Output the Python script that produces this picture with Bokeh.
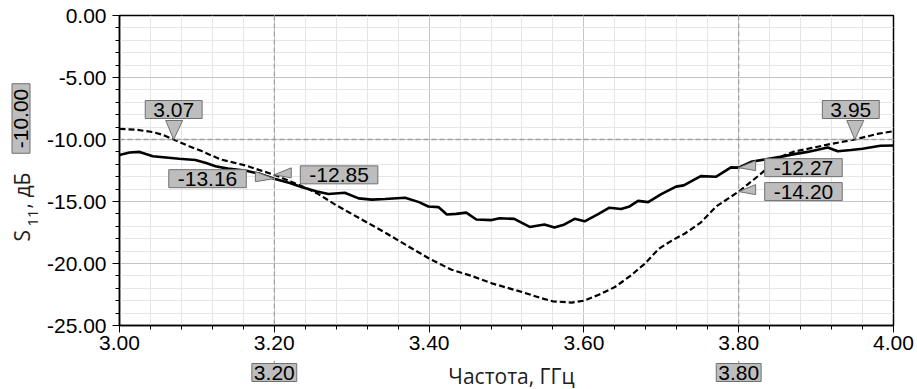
import math
from bokeh.plotting import figure
from bokeh.layouts import row, column
from bokeh.models import (Range1d, SingleIntervalTicker, PrintfTickFormatter, Label, Arrow)
from bokeh.embed import file_html
from bokeh.resources import INLINE

# ---- data ----
freq_solid = [3.000, 3.013, 3.026, 3.043, 3.060, 3.077, 3.098, 3.112, 3.124, 3.140, 3.162, 3.180,
              3.200, 3.220, 3.236, 3.255, 3.270, 3.291, 3.309, 3.326, 3.343, 3.369, 3.387, 3.399,
              3.412, 3.423, 3.435, 3.448, 3.461, 3.481, 3.491, 3.510, 3.530, 3.549, 3.562, 3.575,
              3.588, 3.601, 3.619, 3.633, 3.648, 3.659, 3.670, 3.683, 3.700, 3.719, 3.729, 3.751,
              3.771, 3.790, 3.800, 3.816, 3.835, 3.854, 3.870, 3.889, 3.915, 3.928, 3.945, 3.960,
              3.983, 4.000]
s11_solid = [-11.25, -11.05, -11.0, -11.35, -11.45, -11.55, -11.65, -11.9, -12.15, -12.35, -12.5, -12.75,
             -13.16, -13.5, -13.85, -14.2, -14.4, -14.3, -14.75, -14.85, -14.8, -14.7, -15.05, -15.4,
             -15.45, -16.05, -16.0, -15.9, -16.45, -16.5, -16.35, -16.4, -17.05, -16.85, -17.1, -16.85,
             -16.4, -16.6, -16.0, -15.5, -15.6, -15.4, -14.95, -15.05, -14.4, -13.8, -13.7, -12.95,
             -13.0, -12.25, -12.27, -11.8, -11.6, -11.4, -11.2, -11.0, -10.65, -10.95, -10.85, -10.75,
             -10.5, -10.48]

freq_dash = [3.000, 3.020, 3.043, 3.057, 3.070, 3.090, 3.107, 3.130, 3.163, 3.180, 3.200, 3.222,
             3.244, 3.257, 3.280, 3.300, 3.343, 3.370, 3.400, 3.429, 3.455, 3.481, 3.520, 3.545,
             3.560, 3.584, 3.600, 3.620, 3.640, 3.660, 3.679, 3.697, 3.715, 3.730, 3.751, 3.771,
             3.800, 3.826, 3.854, 3.870, 3.893, 3.920, 3.950, 3.979, 4.000]
s11_dash = [-9.15, -9.2, -9.4, -9.65, -10.0, -10.55, -10.95, -11.6, -12.1, -12.45, -12.85, -13.4,
            -14.0, -14.4, -15.3, -16.0, -17.5, -18.5, -19.6, -20.5, -21.0, -21.6, -22.3, -22.8,
            -23.05, -23.15, -23.0, -22.5, -21.9, -21.0, -20.0, -18.8, -18.1, -17.6, -16.7, -15.4,
            -14.20, -12.9, -11.4, -11.0, -10.7, -10.35, -10.0, -9.55, -9.33]

level_db = -10.0
level_freqs = [3.07, 3.95]          # dashed curve crossing -10 dB
marker_freqs = [3.20, 3.80]
marker_solid = [-13.16, -12.27]
marker_dash = [-12.85, -14.20]

x_label = "Частота, ГГц"
y_label_main, y_label_sub, y_label_tail = "S", "11", ", дБ"

# ---- layout constants (page pixels) ----
W, H = 917, 389
LW = 43                      # left strip width
MH = 360                     # main figure height
FL, FR, FT, FB = 117, 893, 15, 325
FW, FH = FR - FL, FB - FT
X0, X1, Y0, Y1 = 3.0, 4.0, -25.0, 0.0
GX = (X1 - X0) / FW
GY = (Y1 - Y0) / FH

def px_x(px):
    return X0 + (px - FL) * GX

def px_y(py):
    return Y1 - (py - FT) * GY

def bare(fig):
    fig.axis.visible = False
    fig.grid.visible = False
    fig.outline_line_color = None
    fig.background_fill_color = "white"
    fig.border_fill_color = "white"

xr = Range1d(X0, X1)

# ---- main figure ----
p = figure(width=W - LW, height=MH, output_backend="svg", toolbar_location=None,
           x_range=xr, y_range=Range1d(Y0, Y1),
           min_border_left=FL - LW, min_border_right=W - FR,
           min_border_top=FT, min_border_bottom=MH - FB)
p.background_fill_color = "white"
p.border_fill_color = "white"
p.outline_line_color = "black"
p.outline_line_width = 1.5

TICK_FONT = "Liberation Sans"
for ax in (p.xaxis[0], p.yaxis[0]):
    ax.axis_line_color = "black"
    ax.axis_line_width = 1.5
    ax.major_tick_line_color = "black"
    ax.minor_tick_line_color = "black"
    ax.major_tick_out = 7
    ax.major_tick_in = 0
    ax.minor_tick_out = 4
    ax.minor_tick_in = 0
    ax.major_label_text_font = TICK_FONT
    ax.major_label_text_font_size = "21px"
    ax.major_label_text_color = "black"
    ax.formatter = PrintfTickFormatter(format="%.2f")

p.xaxis[0].ticker = SingleIntervalTicker(interval=0.2, num_minor_ticks=5)
p.yaxis[0].ticker = SingleIntervalTicker(interval=5, num_minor_ticks=5)
p.xaxis[0].major_label_standoff = 3
p.yaxis[0].major_label_standoff = 6

p.xgrid.grid_line_color = "#c4c4c4"
p.ygrid.grid_line_color = "#c4c4c4"
p.xgrid.minor_grid_line_color = "#e6e6e6"
p.ygrid.minor_grid_line_color = "#e6e6e6"
p.xgrid.ticker = p.xaxis[0].ticker
p.ygrid.ticker = p.yaxis[0].ticker

MARK_GRAY = "#a0a0a0"
p.add_layout(Arrow(end=None, x_start=X0, y_start=level_db, x_end=X1, y_end=level_db,
                   line_color=MARK_GRAY, line_width=1.5, line_dash="5 3"))
for f in marker_freqs:
    p.add_layout(Arrow(end=None, x_start=f, y_start=Y1, x_end=f, y_end=Y0,
                       line_color=MARK_GRAY, line_width=1.2, line_dash="5 3"))

p.line(freq_dash, s11_dash, line_color="black", line_width=2.2, line_dash="6 3")
p.line(freq_solid, s11_solid, line_color="black", line_width=2.6)

BOX_FILL = "#bdbdbd"
BOX_LINE = "#707070"
BOX_FONT = "Liberation Sans"
BOX_SIZE = "21px"

def box_label(fig, x, y, text, pad=(8, 2), **kw):
    fig.add_layout(Label(x=x, y=y, text=text, text_font=BOX_FONT, text_font_size=BOX_SIZE,
                         text_color="black", background_fill_color=BOX_FILL,
                         border_line_color=BOX_LINE, border_line_width=1,
                         padding=pad, **kw))

wx, wy = [], []
for f in level_freqs:
    off = 0 if f < 3.5 else -4
    box_label(p, f, level_db, "%.2f" % f, x_offset=off, y_offset=30,
              text_align="center", text_baseline="middle")
    wx.append([f - 8 * GX, f + 9 * GX, f])
    wy.append([level_db + 19 * GY, level_db + 19 * GY, level_db])

for i, f in enumerate(marker_freqs):
    for val, side in ((marker_solid[i], "left" if i == 0 else "right"),
                      (marker_dash[i], "right")):
        if side == "left":
            box_label(p, f, val, "%.2f" % val, pad=(9, 2), x_offset=-(19 + 9), y_offset=0,
                      text_align="right", text_baseline="middle")
            ex = f - 19 * GX
        else:
            box_label(p, f, val, "%.2f" % val, pad=(9, 2), x_offset=(17 + 9), y_offset=0,
                      text_align="left", text_baseline="middle")
            ex = f + 17 * GX
        wx.append([ex, ex, f])
        wy.append([val + 7 * GY, val - 3 * GY, val])

p.patches(wx, wy, fill_color=BOX_FILL, line_color=BOX_LINE, line_width=1)

# ---- left strip: y-axis title and level box ----
left = figure(width=LW, height=H, output_backend="svg", toolbar_location=None,
              x_range=Range1d(0, LW), y_range=Range1d(px_y(H), px_y(0)),
              min_border=0)
bare(left)
box_label(left, 20.5, level_db, "%.2f" % level_db, pad=(5, 2), y_offset=21, angle=math.pi / 2,
          text_align="center", text_baseline="middle")
LBL_FONT = "Open Sans"
left.add_layout(Label(x=21, y=px_y(241), text=y_label_main, text_font=LBL_FONT,
                      text_font_size="21px", angle=math.pi / 2, text_align="left",
                      text_baseline="middle", text_color="#202020"))
left.add_layout(Label(x=32, y=px_y(226), text=y_label_sub, text_font=LBL_FONT,
                      text_font_size="15px", angle=math.pi / 2, text_align="left",
                      text_baseline="middle", text_color="#202020"))
left.add_layout(Label(x=21, y=px_y(208), text=y_label_tail, text_font=LBL_FONT,
                      text_font_size="21px", angle=math.pi / 2, text_align="left",
                      text_baseline="middle", text_color="#202020"))

# ---- bottom strip: x-axis title and frequency boxes ----
bottom = figure(width=W - LW, height=H - MH, output_backend="svg", toolbar_location=None,
                x_range=xr, y_range=Range1d(H, MH),
                min_border_left=FL - LW, min_border_right=W - FR,
                min_border_top=0, min_border_bottom=0)
bare(bottom)
for f in marker_freqs:
    bottom.add_layout(Arrow(end=None, x_start=f, y_start=MH, x_end=f, y_end=MH + 3,
                            line_color=MARK_GRAY, line_width=1.2))
    box_label(bottom, f, 372, "%.2f" % f, pad=(2, 2),
              text_align="center", text_baseline="middle")
bottom.add_layout(Label(x=px_x(510), y=375, text=x_label, text_font=LBL_FONT,
                        text_font_size="21px", text_align="center",
                        text_baseline="middle", text_color="#202020"))

layout = row(left, column(p, bottom, spacing=0), spacing=0)
open("out.html", "w").write(file_html(layout, INLINE))
